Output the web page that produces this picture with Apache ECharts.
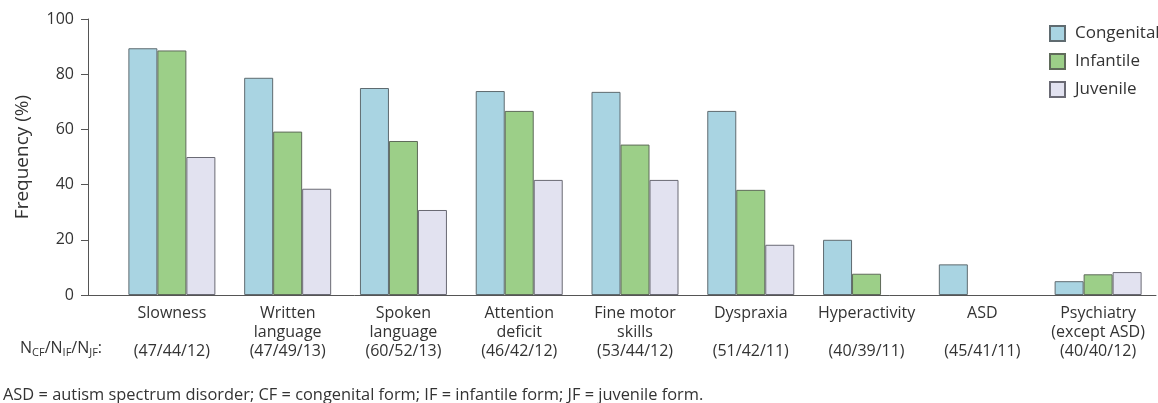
<!DOCTYPE html>
<html>
<head>
<meta charset="utf-8">
<script src="https://cdn.jsdelivr.net/npm/echarts@6/dist/echarts.min.js"></script>
<style>
  html, body { margin: 0; padding: 0; background: #fff; }
  #chart { width: 1158px; height: 403px; }
</style>
</head>
<body>
<div id="chart"></div>
<script>
// category names (split by line) and group sizes CF/IF/JF
const categories = [
  "Slowness", "Written\nlanguage", "Spoken\nlanguage", "Attention\ndeficit",
  "Fine motor\nskills", "Dyspraxia", "Hyperactivity", "ASD", "Psychiatry\n(except ASD)"
];
const counts = [
  "(47/44/12)", "(47/49/13)", "(60/52/13)", "(46/42/12)",
  "(53/44/12)", "(51/42/11)", "(40/39/11)", "(45/41/11)", "(40/40/12)"
];
const congenital = [89.4, 78.7, 75.0, 73.9, 73.6, 66.7, 20.0, 11.1, 5.0];
const infantile = [88.6, 59.2, 55.8, 66.7, 54.5, 38.1, 7.7, 0, 7.5];
const juvenile = [50.0, 38.5, 30.8, 41.7, 41.7, 18.2, 0, 0, 8.3];
const yTicks = [0, 20, 40, 60, 80, 100];

const font = '"Open Sans", "Noto Sans", sans-serif';
const textColor = "#333";
const lineColor = "#555";

const chart = echarts.init(document.getElementById("chart"));

// label text: name lines padded to 2 lines, then the counts
const labelFor = (name, i) => {
  const lines = name.split("\n");
  while (lines.length < 2) lines.push("");
  return lines.join("\n") + "\n" + counts[i];
};

// zero values have no visible bar in the original
const noZero = (arr) => arr.map((v) => (v === 0 ? "-" : v));

const barBase = {
  type: "bar",
  xAxisIndex: 1,
  yAxisIndex: 1,
  barWidth: 29,
  barGap: "0%",
};

chart.setOption({
  animation: false,
  textStyle: { fontFamily: font },
  grid: [
    // outer frame: y axis and the full-length x axis line
    { left: 88, right: 2, top: 19, bottom: 108 },
    // inner grid: the categories and bars
    { left: 114, right: 2, top: 19, bottom: 108 },
  ],
  legend: {
    orient: "vertical",
    left: 1049,
    top: 25,
    padding: 0,
    itemWidth: 15,
    itemHeight: 15,
    itemGap: 11,
    icon: "rect",
    textStyle: { fontSize: 17, color: textColor, fontFamily: font, padding: [0, 0, 0, 5] },
    data: ["Congenital", "Infantile", "Juvenile"],
  },
  xAxis: [
    {
      gridIndex: 0,
      type: "value",
      min: 0,
      max: 1,
      axisLine: { show: true, lineStyle: { color: lineColor, width: 1 } },
      axisTick: { show: false },
      axisLabel: { show: false },
      splitLine: { show: false },
    },
    {
      gridIndex: 1,
      type: "category",
      data: categories,
      axisLine: { show: false },
      axisTick: { show: false },
      axisLabel: {
        interval: 0,
        margin: 9,
        fontSize: 16,
        lineHeight: 19,
        color: textColor,
        fontFamily: font,
        formatter: labelFor,
      },
    },
  ],
  yAxis: [
    {
      gridIndex: 0,
      type: "value",
      min: yTicks[0],
      max: yTicks[yTicks.length - 1],
      interval: 20,
      name: "Frequency (%)",
      nameLocation: "middle",
      nameGap: 56,
      nameTextStyle: { fontSize: 19, color: textColor, fontFamily: font },
      axisLine: { show: true, lineStyle: { color: lineColor, width: 1 } },
      axisTick: { show: true, length: 7, lineStyle: { color: lineColor } },
      axisLabel: { fontSize: 16, color: textColor, margin: 14, fontFamily: font },
      splitLine: { show: false },
    },
    {
      gridIndex: 1,
      type: "value",
      min: 0,
      max: 100,
      show: false,
    },
  ],
  series: [
    Object.assign({}, barBase, {
      name: "Congenital",
      data: noZero(congenital),
      itemStyle: { color: "#a9d4e2", borderColor: "#5f6b70", borderWidth: 1 },
    }),
    Object.assign({}, barBase, {
      name: "Infantile",
      data: noZero(infantile),
      itemStyle: { color: "#9ccf88", borderColor: "#5f6b5a", borderWidth: 1 },
    }),
    Object.assign({}, barBase, {
      name: "Juvenile",
      data: noZero(juvenile),
      itemStyle: { color: "#e2e2f0", borderColor: "#6a6a74", borderWidth: 1 },
    }),
  ],
  graphic: [
    {
      type: "text",
      left: 20,
      top: 340,
      style: {
        text: "N{s|CF}/N{s|IF}/N{s|JF}:",
        font: "16px " + font,
        fill: textColor,
        rich: {
          s: { fontSize: 11, fill: textColor, fontFamily: font, padding: [9, 0, 0, 0] },
        },
      },
    },
    {
      type: "text",
      left: 3,
      top: 387,
      style: {
        text: "ASD = autism spectrum disorder; CF = congenital form; IF = infantile form; JF = juvenile form.",
        font: "16.4px " + font,
        fill: textColor,
      },
    },
  ],
});
</script>
</body>
</html>
